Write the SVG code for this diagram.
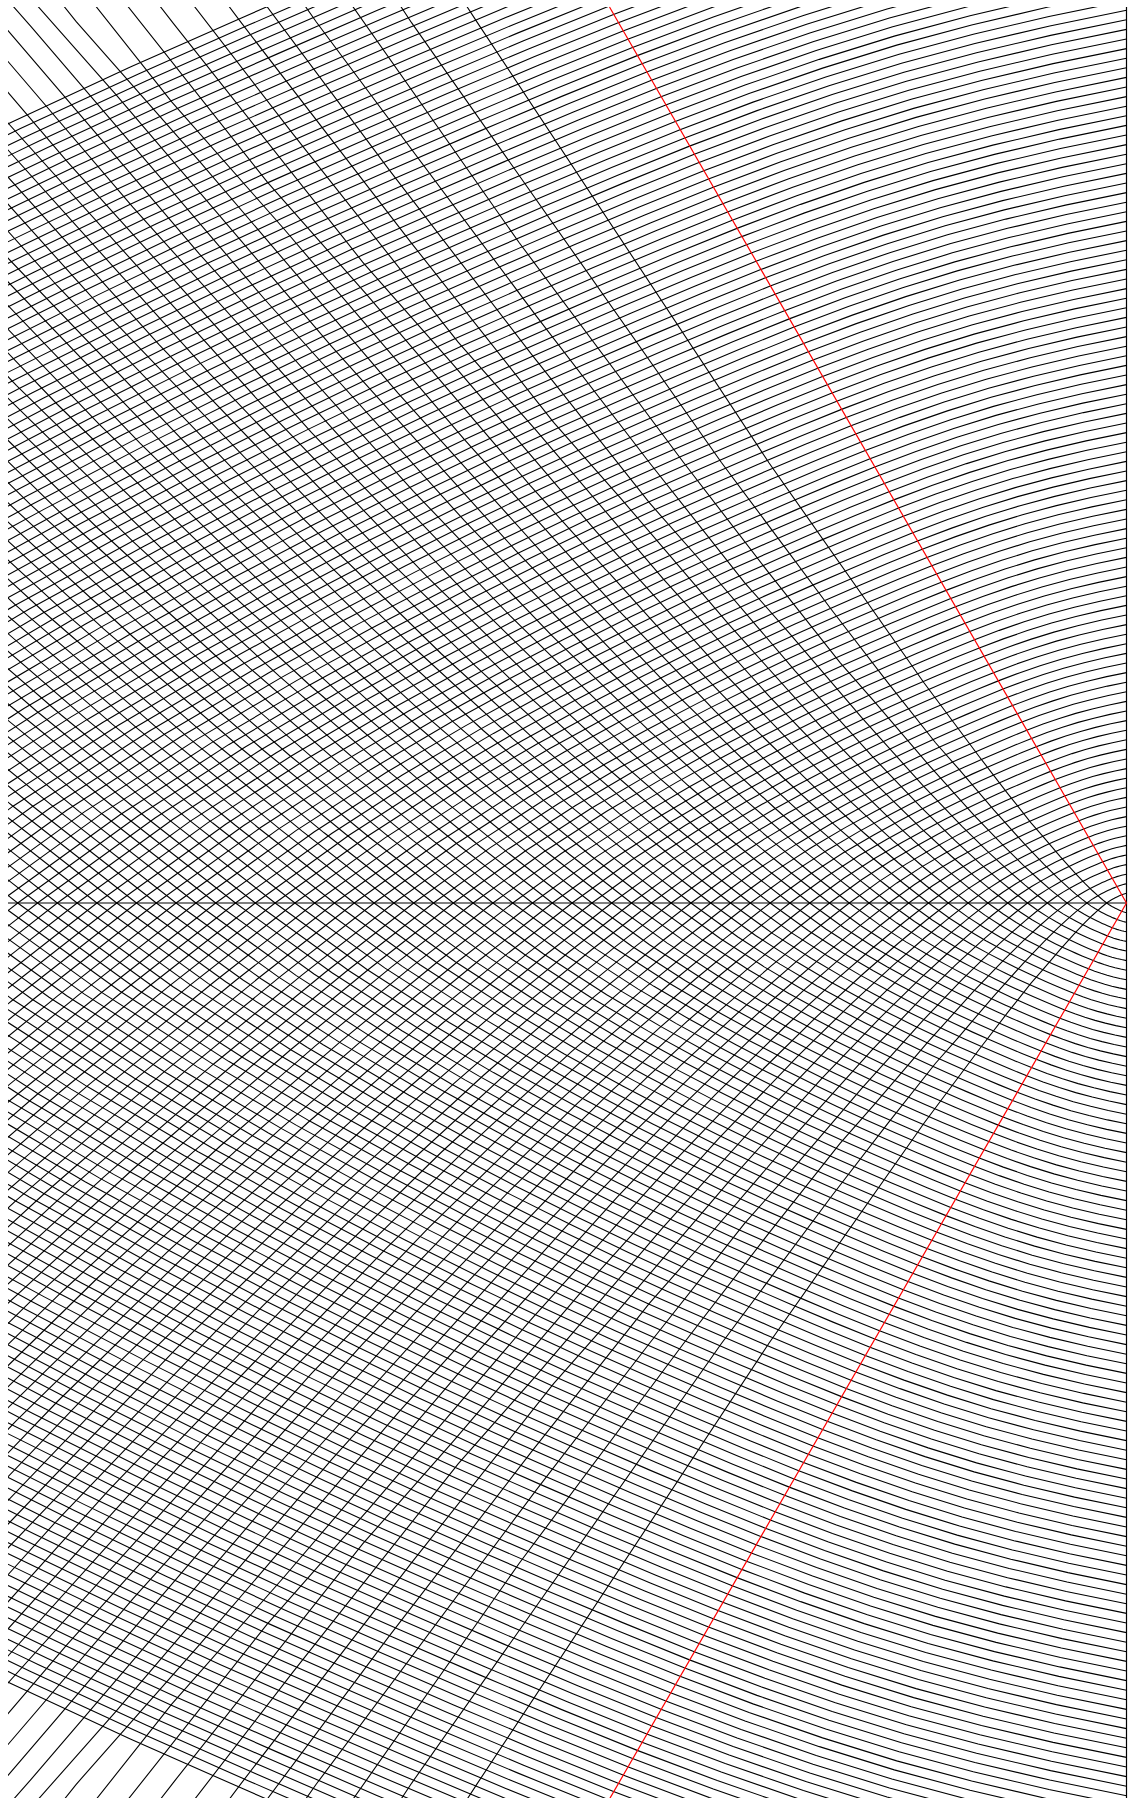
<svg xmlns="http://www.w3.org/2000/svg" xmlns:xlink="http://www.w3.org/1999/xlink" width="1128" height="1798" viewBox="0 0 1128 1798">
<style>
.c{fill:none;stroke:#000;stroke-width:1.1;vector-effect:non-scaling-stroke}
.ax{fill:none;stroke:#000;stroke-width:1.2}
.red{fill:none;stroke:#f00;stroke-width:1.2}
</style>
<defs>
<clipPath id="clip"><rect x="8" y="7" width="1119" height="1791"/></clipPath>
<path id="u" class="c" d="M85.2,-974 L0,-960 L-82.5,-943.1 L-163,-924.2 L-241.9,-903 L-319.9,-878.8 L-397.3,-852 L-475,-822.7 L-553.7,-790.8 L-634.8,-756.5 L-719.6,-719.6 L-809.9,-679.6 L-906.6,-634.8 L-1011.7,-584.1 L-1128,-526 L-1258.4,-458 L-1406.7,-376.9 L-1575.2,-277.8 L-1766.3,-154.5 L-1980,0 L-2228.8,195 L-2535.7,447.1 L-2922.5,783.1 L-3427.3,1247.5 L-4111.7,1917.3 L-5093.1,2940.5 L-6624.5,4638.5 L-8424.8,6739.9 L-9548,8011.7 L-11914.4,10994.2 L-14758,14676 L-20254,22026 L-35739,44003 L-64944,88087 L-119404,171957"/>
<g id="fan">
<use href="#u" transform="scale(.01)"/><use href="#u" transform="scale(.02)"/><use href="#u" transform="scale(.03)"/><use href="#u" transform="scale(.04)"/><use href="#u" transform="scale(.05)"/>
<use href="#u" transform="scale(.06)"/><use href="#u" transform="scale(.07)"/><use href="#u" transform="scale(.08)"/><use href="#u" transform="scale(.09)"/><use href="#u" transform="scale(.10)"/>
<use href="#u" transform="scale(.11)"/><use href="#u" transform="scale(.12)"/><use href="#u" transform="scale(.13)"/><use href="#u" transform="scale(.14)"/><use href="#u" transform="scale(.15)"/>
<use href="#u" transform="scale(.16)"/><use href="#u" transform="scale(.17)"/><use href="#u" transform="scale(.18)"/><use href="#u" transform="scale(.19)"/><use href="#u" transform="scale(.20)"/>
<use href="#u" transform="scale(.21)"/><use href="#u" transform="scale(.22)"/><use href="#u" transform="scale(.23)"/><use href="#u" transform="scale(.24)"/><use href="#u" transform="scale(.25)"/>
<use href="#u" transform="scale(.26)"/><use href="#u" transform="scale(.27)"/><use href="#u" transform="scale(.28)"/><use href="#u" transform="scale(.29)"/><use href="#u" transform="scale(.30)"/>
<use href="#u" transform="scale(.31)"/><use href="#u" transform="scale(.32)"/><use href="#u" transform="scale(.33)"/><use href="#u" transform="scale(.34)"/><use href="#u" transform="scale(.35)"/>
<use href="#u" transform="scale(.36)"/><use href="#u" transform="scale(.37)"/><use href="#u" transform="scale(.38)"/><use href="#u" transform="scale(.39)"/><use href="#u" transform="scale(.40)"/>
<use href="#u" transform="scale(.41)"/><use href="#u" transform="scale(.42)"/><use href="#u" transform="scale(.43)"/><use href="#u" transform="scale(.44)"/><use href="#u" transform="scale(.45)"/>
<use href="#u" transform="scale(.46)"/><use href="#u" transform="scale(.47)"/><use href="#u" transform="scale(.48)"/><use href="#u" transform="scale(.49)"/><use href="#u" transform="scale(.50)"/>
<use href="#u" transform="scale(.51)"/><use href="#u" transform="scale(.52)"/><use href="#u" transform="scale(.53)"/><use href="#u" transform="scale(.54)"/><use href="#u" transform="scale(.55)"/>
<use href="#u" transform="scale(.56)"/><use href="#u" transform="scale(.57)"/><use href="#u" transform="scale(.58)"/><use href="#u" transform="scale(.59)"/><use href="#u" transform="scale(.60)"/>
<use href="#u" transform="scale(.61)"/><use href="#u" transform="scale(.62)"/><use href="#u" transform="scale(.63)"/><use href="#u" transform="scale(.64)"/><use href="#u" transform="scale(.65)"/>
<use href="#u" transform="scale(.66)"/><use href="#u" transform="scale(.67)"/><use href="#u" transform="scale(.68)"/><use href="#u" transform="scale(.69)"/><use href="#u" transform="scale(.70)"/>
<use href="#u" transform="scale(.71)"/><use href="#u" transform="scale(.72)"/><use href="#u" transform="scale(.73)"/><use href="#u" transform="scale(.74)"/><use href="#u" transform="scale(.75)"/>
<use href="#u" transform="scale(.76)"/><use href="#u" transform="scale(.77)"/><use href="#u" transform="scale(.78)"/><use href="#u" transform="scale(.79)"/><use href="#u" transform="scale(.80)"/>
<use href="#u" transform="scale(.81)"/><use href="#u" transform="scale(.82)"/><use href="#u" transform="scale(.83)"/><use href="#u" transform="scale(.84)"/><use href="#u" transform="scale(.85)"/>
<use href="#u" transform="scale(.86)"/><use href="#u" transform="scale(.87)"/><use href="#u" transform="scale(.88)"/><use href="#u" transform="scale(.89)"/><use href="#u" transform="scale(.90)"/>
<use href="#u" transform="scale(.91)"/><use href="#u" transform="scale(.92)"/><use href="#u" transform="scale(.93)"/><use href="#u" transform="scale(.94)"/><use href="#u" transform="scale(.95)"/>
<use href="#u" transform="scale(.96)"/><use href="#u" transform="scale(.97)"/><use href="#u" transform="scale(.98)"/><use href="#u" transform="scale(.99)"/><use href="#u" transform="scale(1.00)"/>
<use href="#u" transform="scale(1.01)"/><use href="#u" transform="scale(1.02)"/><use href="#u" transform="scale(1.03)"/><use href="#u" transform="scale(1.04)"/><use href="#u" transform="scale(1.05)"/>
<use href="#u" transform="scale(1.06)"/><use href="#u" transform="scale(1.07)"/><use href="#u" transform="scale(1.08)"/><use href="#u" transform="scale(1.09)"/><use href="#u" transform="scale(1.10)"/>
<use href="#u" transform="scale(1.11)"/><use href="#u" transform="scale(1.12)"/><use href="#u" transform="scale(1.13)"/><use href="#u" transform="scale(1.14)"/><use href="#u" transform="scale(1.15)"/>
<use href="#u" transform="scale(1.16)"/><use href="#u" transform="scale(1.17)"/><use href="#u" transform="scale(1.18)"/><use href="#u" transform="scale(1.19)"/><use href="#u" transform="scale(1.20)"/>
<use href="#u" transform="scale(1.21)"/><use href="#u" transform="scale(1.22)"/><use href="#u" transform="scale(1.23)"/>
</g>
</defs>
<rect width="1128" height="1798" fill="#fff"/>
<g id="curves" clip-path="url(#clip)">
<use id="upper-family" href="#fan" transform="translate(1126.5 903)"/>
<use id="lower-family" href="#fan" transform="translate(1126.5 903) scale(1 -1)"/>
</g>
<g id="axes">
<line class="ax" x1="8" y1="903" x2="1126.5" y2="903"/>
<line class="ax" x1="1126.5" y1="7" x2="1126.5" y2="1798"/>
</g>
<g id="boundaries">
<line class="red" x1="1126.5" y1="903" x2="609.5" y2="7"/>
<line class="red" x1="1126.5" y1="903" x2="609.5" y2="1799"/>
</g>
</svg>
